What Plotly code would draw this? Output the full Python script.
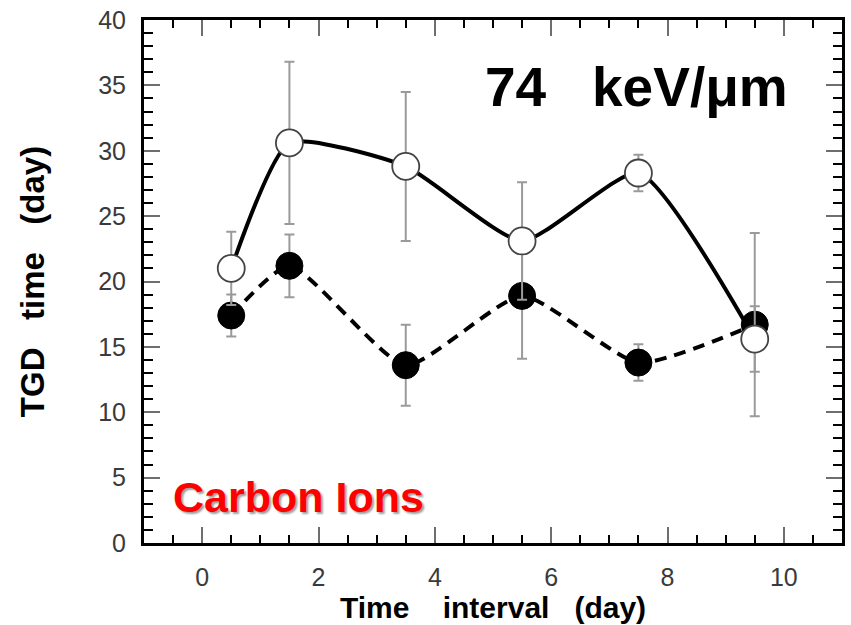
import plotly.graph_objects as go

# ---- data ----
interval_days = [0.5, 1.5, 3.5, 5.5, 7.5, 9.5]
open_tgd = [21.0, 30.6, 28.8, 23.1, 28.3, 15.6]
open_err = [2.8, 6.2, 5.7, 4.5, 1.4, 2.5]
filled_tgd = [17.4, 21.2, 13.6, 18.9, 13.8, 16.7]
filled_err = [1.6, 2.4, 3.1, 4.8, 1.4, 7.0]

x_ticks = [0, 2, 4, 6, 8, 10]
y_ticks = [0, 5, 10, 15, 20, 25, 30, 35, 40]

FONT = "Liberation Sans, Arial, Helvetica, sans-serif"

fig = go.Figure()

fig.add_trace(go.Scatter(
    x=interval_days, y=filled_tgd,
    mode="lines+markers",
    line=dict(color="black", width=4, dash="12px,8px", shape="spline", smoothing=0.55),
    marker=dict(symbol="circle", size=27, color="black", line=dict(color="black", width=1)),
    error_y=dict(type="data", array=filled_err, visible=True, color="#9a9a9a", thickness=2, width=5),
    showlegend=False,
))

fig.add_trace(go.Scatter(
    x=interval_days, y=open_tgd,
    mode="lines+markers",
    line=dict(color="black", width=4, shape="spline", smoothing=0.55),
    marker=dict(symbol="circle", size=27, color="white", line=dict(color="#444444", width=1.8)),
    error_y=dict(type="data", array=open_err, visible=True, color="#9a9a9a", thickness=2, width=5),
    showlegend=False,
))

fig.add_annotation(
    x=7.46, y=34.9, xref="x", yref="y",
    text="<b>74   keV/μm</b>", showarrow=False,
    font=dict(family=FONT, size=55, color="black"),
)
fig.add_annotation(
    x=1.65, y=3.55, xref="x", yref="y",
    text="<b>Carbon Ions</b>", showarrow=False,
    font=dict(family=FONT, size=43, color="#ff0000", shadow="2px 2px 2px #a0a0a0"),
)

axis_common = dict(
    showline=True, linecolor="black", linewidth=3, mirror="allticks",
    ticks="inside", ticklen=16, tickwidth=2, tickcolor="#6e6e6e",
    showgrid=False, zeroline=False,
    tickfont=dict(family=FONT, size=25, color="#3a3a3a"),
)

fig.update_xaxes(
    **axis_common,
    range=[-1, 11], tickmode="array", tickvals=x_ticks,
    ticktext=[str(v) for v in x_ticks],
    minor=dict(dtick=0.5, tick0=0, ticks="inside", ticklen=8, tickwidth=2, tickcolor="black"),
    ticklabelstandoff=10,
    title=dict(text="<b>Time    interval   (day)</b>", font=dict(family=FONT, size=30, color="black"), standoff=7),
)
fig.update_yaxes(
    **axis_common,
    range=[0, 40], tickmode="array", tickvals=y_ticks,
    ticktext=[str(v) for v in y_ticks],
    minor=dict(dtick=1, tick0=0, ticks="inside", ticklen=9, tickwidth=2, tickcolor="black"),
    ticklabelstandoff=10,
    title=dict(text="<b>TGD   time   (day)</b>", font=dict(family=FONT, size=33, color="black"), standoff=44),
)

fig.update_layout(
    width=851, height=625,
    margin=dict(l=144, r=6, t=20, b=81),
    paper_bgcolor="white", plot_bgcolor="white",
    font=dict(family=FONT),
)

fig.write_html("out.html")
